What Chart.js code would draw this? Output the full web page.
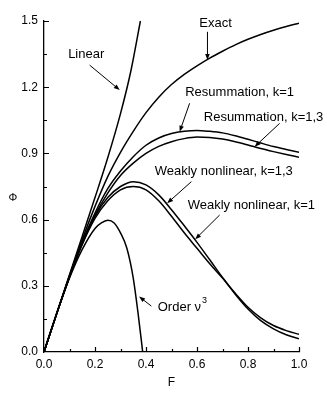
<!DOCTYPE html>
<html><head><meta charset="utf-8">
<script src="https://cdn.jsdelivr.net/npm/chart.js@4.4.0/dist/chart.umd.min.js"></script>
<style>html,body{margin:0;padding:0;background:#fff;}canvas{display:block;}</style>
</head><body>
<canvas id="c" width="327" height="401"></canvas>
<script>
// ---- data ----
const fGrid = [0,0.05,0.1,0.15,0.2,0.25,0.3,0.35,0.4,0.45,0.5,0.55,0.6,0.65,0.7,0.75,0.8,0.85,0.9,0.95,1.0];
const exactPhi   = [0,0.175,0.345,0.51,0.66,0.795,0.905,1.0,1.085,1.155,1.212,1.258,1.297,1.332,1.363,1.392,1.417,1.439,1.458,1.475,1.49];
const resum1Phi  = [0,0.175,0.345,0.5,0.63,0.74,0.82,0.885,0.937,0.97,0.99,1.0,1.004,1.0,0.993,0.98,0.964,0.947,0.931,0.918,0.905];
const resum13Phi = [0,0.175,0.34,0.495,0.62,0.72,0.8,0.856,0.9,0.932,0.953,0.967,0.974,0.972,0.965,0.953,0.938,0.922,0.908,0.895,0.883];
const weak13Phi  = [0,0.175,0.34,0.49,0.615,0.7,0.75,0.772,0.757,0.712,0.645,0.572,0.497,0.418,0.338,0.262,0.195,0.142,0.105,0.078,0.06];
const weak1Phi   = [0,0.175,0.34,0.487,0.605,0.685,0.735,0.75,0.735,0.685,0.615,0.54,0.47,0.4,0.335,0.266,0.203,0.155,0.12,0.097,0.08];
const linearF   = [0,0.05,0.1,0.15,0.2,0.25,0.3,0.34,0.378];
const linearPhi = [0,0.175,0.35,0.525,0.7,0.88,1.08,1.27,1.5];
const orderF   = [0,0.05,0.1,0.15,0.2,0.225,0.25,0.275,0.3,0.325,0.35,0.37,0.387];
const orderPhi = [0,0.175,0.335,0.465,0.56,0.585,0.597,0.585,0.54,0.47,0.335,0.165,0];
const xTickLabels = [0,0.2,0.4,0.6,0.8,1.0];
const yTickLabels = [0,0.3,0.6,0.9,1.2,1.5];
const xTickMarks = [0.1,0.2,0.3,0.4,0.5,0.6,0.7,0.8,0.9,1.0];
const yTickMarks = [0.15,0.3,0.45,0.6,0.75,0.9,1.05,1.2,1.35,1.5];

// annotation placement (data coordinates)
const notes = [
  {text:'Linear', x:0.1655, y:1.349, align:'center', from:[0.179,1.30], to:[0.297,1.187]},
  {text:'Exact', x:0.673, y:1.491, align:'center', from:[0.641,1.451], to:[0.641,1.323]},
  {text:'Resummation, k=1', x:0.767, y:1.178, align:'center', from:[0.571,1.127], to:[0.532,0.998]},
  {text:'Resummation, k=1,3', x:0.861, y:1.065, align:'center', from:[0.924,1.036], to:[0.826,0.930]},
  {text:'Weakly nonlinear, k=1,3', x:0.705, y:0.820, align:'center', from:[0.578,0.772], to:[0.483,0.674]},
  {text:'Weakly nonlinear, k=1', x:0.813, y:0.666, align:'center', from:[0.689,0.621], to:[0.593,0.511]},
  {text:'Order \u03bd', sup:'3', x:0.446, y:0.204, align:'left', from:[0.421,0.208], to:[0.373,0.251]}
];

const FONT = '"Liberation Sans", Arial, Helvetica, sans-serif';
const pts = (xs, ys) => xs.map((x,i)=>({x:x, y:ys[i]}));

const ds = (label, data) => ({label, data, borderColor:'#000', borderWidth:1.5, pointRadius:0, fill:false, cubicInterpolationMode:'monotone'});

const deco = {
  id:'deco',
  afterDatasetsDraw(chart){
    const ctx = chart.ctx, xs = chart.scales.x, ys = chart.scales.y;
    const x0 = xs.getPixelForValue(0), y0 = ys.getPixelForValue(0);
    ctx.save();
    ctx.strokeStyle = '#000'; ctx.lineWidth = 1.2;
    ctx.beginPath();
    xTickMarks.forEach(v=>{
      const major = Math.abs(v/0.2 - Math.round(v/0.2)) < 1e-6;
      const px = Math.round(xs.getPixelForValue(v))+0.5;
      ctx.moveTo(px, y0); ctx.lineTo(px, y0 - (major?5:3));
    });
    yTickMarks.forEach(v=>{
      const major = Math.abs(v/0.3 - Math.round(v/0.3)) < 1e-6;
      const py = Math.round(ys.getPixelForValue(v))+0.5;
      ctx.moveTo(x0, py); ctx.lineTo(x0 + (major?5:3), py);
    });
    ctx.stroke();
    // axis titles
    ctx.fillStyle = '#000';
    ctx.font = '12px ' + FONT;
    ctx.textAlign = 'center'; ctx.textBaseline = 'middle';
    ctx.fillText('F', (xs.left+xs.right)/2, 383);
    ctx.font = '11px ' + FONT;
    ctx.fillText('\u03a6', 13, ys.getPixelForValue(0.7));
    // annotations
    ctx.font = '13px ' + FONT;
    notes.forEach(n=>{
      const tx = xs.getPixelForValue(n.x), ty = ys.getPixelForValue(n.y);
      ctx.textAlign = n.align; ctx.textBaseline = 'middle';
      ctx.fillText(n.text, tx, ty);
      if (n.sup){
        const w = ctx.measureText(n.text).width;
        ctx.save(); ctx.font = '9px ' + FONT; ctx.textAlign='left';
        ctx.fillText(n.sup, tx + w + 1, ty - 6);
        ctx.restore();
      }
      const fx = xs.getPixelForValue(n.from[0]), fy = ys.getPixelForValue(n.from[1]);
      const ax = xs.getPixelForValue(n.to[0]), ay = ys.getPixelForValue(n.to[1]);
      const ang = Math.atan2(ay-fy, ax-fx);
      const L = 6, W = 2.3;
      ctx.lineWidth = 1;
      ctx.beginPath(); ctx.moveTo(fx,fy);
      ctx.lineTo(ax - Math.cos(ang)*L*0.8, ay - Math.sin(ang)*L*0.8); ctx.stroke();
      ctx.beginPath();
      ctx.moveTo(ax, ay);
      ctx.lineTo(ax - Math.cos(ang)*L - Math.sin(ang)*W, ay - Math.sin(ang)*L + Math.cos(ang)*W);
      ctx.lineTo(ax - Math.cos(ang)*L + Math.sin(ang)*W, ay - Math.sin(ang)*L - Math.cos(ang)*W);
      ctx.closePath(); ctx.fill();
    });
    ctx.restore();
  }
};

new Chart(document.getElementById('c'), {
  type:'line',
  data:{datasets:[
    ds('Linear', pts(linearF, linearPhi)),
    ds('Exact', pts(fGrid, exactPhi)),
    ds('Resummation, k=1', pts(fGrid, resum1Phi)),
    ds('Resummation, k=1,3', pts(fGrid, resum13Phi)),
    ds('Weakly nonlinear, k=1,3', pts(fGrid, weak13Phi)),
    ds('Weakly nonlinear, k=1', pts(fGrid, weak1Phi)),
    ds('Order \u03bd\u00b3', pts(orderF, orderPhi))
  ]},
  options:{
    responsive:false, animation:false, devicePixelRatio:1,
    layout:{padding:{top:21,right:28,left:0,bottom:0}},
    plugins:{legend:{display:false}, tooltip:{enabled:false}},
    scales:{
      x:{type:'linear', min:0, max:1,
        grid:{display:false, drawTicks:false},
        border:{display:true, color:'#000', width:1.3},
        ticks:{color:'#000', padding:5, maxRotation:0, font:{family:FONT, size:12}, callback:v=>Number(v).toFixed(1)},
        afterBuildTicks:s=>{s.ticks = xTickLabels.map(v=>({value:v}));},
        afterFit:s=>{s.height = 49;}
      },
      y:{type:'linear', min:0, max:1.5,
        grid:{display:false, drawTicks:false},
        border:{display:true, color:'#000', width:1.3},
        ticks:{color:'#000', padding:6, font:{family:FONT, size:12}, callback:v=>Number(v).toFixed(1)},
        afterBuildTicks:s=>{s.ticks = yTickLabels.map(v=>({value:v}));},
        afterFit:s=>{s.width = 44;}
      }
    }
  },
  plugins:[deco]
});
</script>
</body></html>
